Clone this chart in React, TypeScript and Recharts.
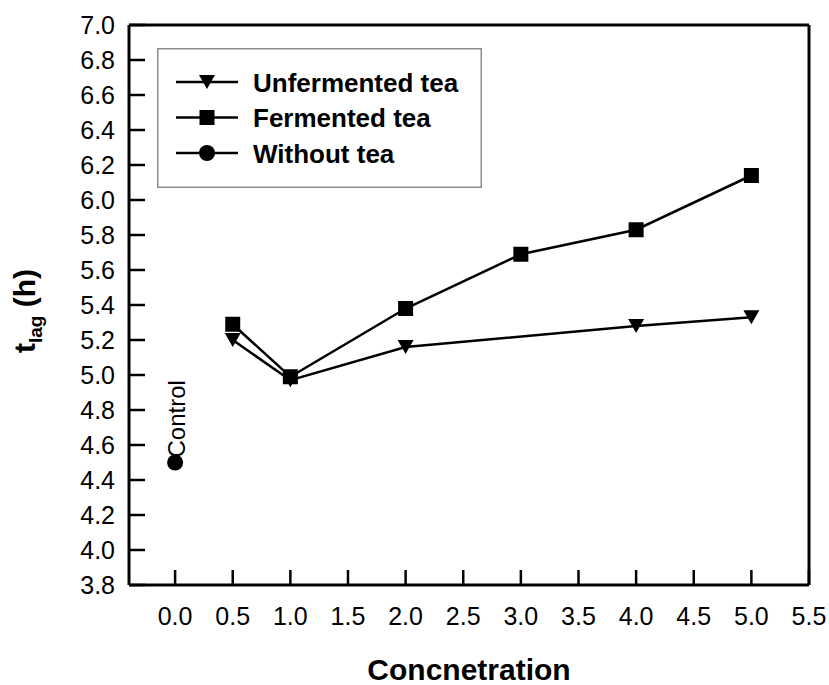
import React from 'react';
import { LineChart, Line, XAxis, YAxis, Legend, LabelList } from 'recharts';

const FONT = "'Liberation Sans', Arial, Helvetica, sans-serif";

const xTicks = [0, 0.5, 1, 1.5, 2, 2.5, 3, 3.5, 4, 4.5, 5, 5.5];
const yTicks = [3.8, 4.0, 4.2, 4.4, 4.6, 4.8, 5.0, 5.2, 5.4, 5.6, 5.8, 6.0, 6.2, 6.4, 6.6, 6.8, 7.0];

const unfermentedConc = [0.5, 1.0, 2.0, 4.0, 5.0];
const unfermentedLag = [5.2, 4.97, 5.16, 5.28, 5.33];
const fermentedConc = [0.5, 1.0, 2.0, 3.0, 4.0, 5.0];
const fermentedLag = [5.29, 4.99, 5.38, 5.69, 5.83, 6.14];
const controlConc = [0.0];
const controlLag = [4.5];
const controlNotes = ['Control'];

const seriesNames = ['Unfermented tea', 'Fermented tea', 'Without tea'];
const seriesShapes = ['triangle', 'square', 'circle'];

const unfermentedData = unfermentedConc.map((x, i) => ({ x, y: unfermentedLag[i] }));
const fermentedData = fermentedConc.map((x, i) => ({ x, y: fermentedLag[i] }));
const controlData = controlConc.map((x, i) => ({ x, y: controlLag[i], note: controlNotes[i] }));

const fmt = (v: number) => v.toFixed(1);

function Marker({ shape, cx, cy }: { shape: string; cx: number; cy: number }) {
  if (cx == null || cy == null) return null;
  if (shape === 'triangle') {
    return (
      <polygon
        points={`${cx - 8},${cy - 7} ${cx + 8},${cy - 7} ${cx},${cy + 7}`}
        fill="#000"
      />
    );
  }
  if (shape === 'square') {
    return <rect x={cx - 7.5} y={cy - 7.5} width={15} height={15} fill="#000" />;
  }
  return <circle cx={cx} cy={cy} r={8} fill="#000" />;
}

const makeDot = (shape: string) => (p: any) => (
  <Marker key={`${shape}-${p.index}`} shape={shape} cx={p.cx} cy={p.cy} />
);

const renderLegend = () => (
  <svg width={325} height={140} style={{ display: 'block' }}>
    <rect x={0.75} y={0.75} width={323.5} height={138.5} fill="#fff" stroke="#8c8c8c" strokeWidth={1.5} />
    {seriesNames.map((name, i) => {
      const cy = 34 + 35.5 * i;
      return (
        <g key={name}>
          <line x1={19} x2={81} y1={cy} y2={cy} stroke="#000" strokeWidth={2.5} />
          <Marker shape={seriesShapes[i]} cx={50} cy={cy} />
          <text x={96} y={cy + 9.5} fontSize={26} fontWeight={700} fontFamily={FONT} fill="#000">
            {name}
          </text>
        </g>
      );
    })}
  </svg>
);

const renderControl = (props: any) => {
  const { x, y, value } = props;
  return (
    <text
      transform={`translate(${x + 10},${y - 5}) rotate(-90)`}
      fontSize={24}
      fontFamily={FONT}
      fill="#000"
    >
      {value}
    </text>
  );
};

const renderYLabel = (props: any) => {
  const vb = props.viewBox || { x: 0, y: 25, width: 129, height: 560 };
  const cy = vb.y + vb.height / 2 + 6;
  return (
    <text
      transform={`translate(35,${cy}) rotate(-90)`}
      textAnchor="middle"
      fontFamily={FONT}
      fontWeight={700}
      fontSize={30}
      fill="#000"
    >
      <tspan>t</tspan>
      <tspan fontSize={19} dy={7}>lag</tspan>
      <tspan dy={-7}>{'\u00a0(h)'}</tspan>
    </text>
  );
};

export default function App() {
  const axisCommon = {
    stroke: '#000',
    axisLine: { stroke: '#000', strokeWidth: 3 },
    tickLine: { stroke: '#000', strokeWidth: 2.5 },
    interval: 0 as const,
  };
  return (
    <div style={{ position: 'absolute', left: 0, top: 0, width: 829, height: 685, background: '#fff' }}>
      <LineChart width={829} height={685} margin={{ top: 0, right: 0, bottom: 0, left: 0 }}>
        <XAxis
          xAxisId="b"
          dataKey="x"
          type="number"
          domain={[-0.4, 5.5]}
          ticks={xTicks}
          height={100}
          tickSize={-15}
          tickMargin={37}
          tickFormatter={fmt}
          tick={{ fontSize: 25, fill: '#000', fontFamily: FONT }}
          allowDataOverflow
          label={{
            value: 'Concnetration',
            position: 'insideBottom',
            offset: 5,
            fontSize: 30,
            fontWeight: 700,
            fill: '#000',
            fontFamily: FONT,
          }}
          {...axisCommon}
        />
        <XAxis
          xAxisId="t"
          orientation="top"
          dataKey="x"
          type="number"
          domain={[-0.4, 5.5]}
          ticks={xTicks}
          height={25}
          tickSize={-16}
          tick={false}
          allowDataOverflow
          {...axisCommon}
        />
        <YAxis
          yAxisId="l"
          type="number"
          domain={[3.8, 7.0]}
          ticks={yTicks}
          width={129}
          tickSize={-16}
          tickMargin={30}
          tickFormatter={fmt}
          tick={{ fontSize: 25, fill: '#000', fontFamily: FONT }}
          allowDataOverflow
          label={renderYLabel}
          {...axisCommon}
        />
        <YAxis
          yAxisId="r"
          orientation="right"
          type="number"
          domain={[3.8, 7.0]}
          ticks={yTicks}
          width={20}
          tickSize={-16}
          tick={false}
          allowDataOverflow
          {...axisCommon}
        />
        <Legend
          verticalAlign="middle"
          align="center"
          layout="horizontal"
          wrapperStyle={{ left: 157, top: 48, width: 325, height: 140 }}
          content={renderLegend}
        />
        <Line
          xAxisId="b"
          yAxisId="l"
          data={unfermentedData}
          dataKey="y"
          name={seriesNames[0]}
          stroke="#000"
          strokeWidth={2.5}
          dot={makeDot('triangle')}
          activeDot={false}
          isAnimationActive={false}
        />
        <Line
          xAxisId="b"
          yAxisId="l"
          data={fermentedData}
          dataKey="y"
          name={seriesNames[1]}
          stroke="#000"
          strokeWidth={2.5}
          dot={makeDot('square')}
          activeDot={false}
          isAnimationActive={false}
        />
        <Line
          xAxisId="b"
          yAxisId="l"
          data={controlData}
          dataKey="y"
          name={seriesNames[2]}
          stroke="#000"
          strokeWidth={2.5}
          dot={makeDot('circle')}
          activeDot={false}
          isAnimationActive={false}
        >
          <LabelList dataKey="note" content={renderControl} />
        </Line>
      </LineChart>
    </div>
  );
}
